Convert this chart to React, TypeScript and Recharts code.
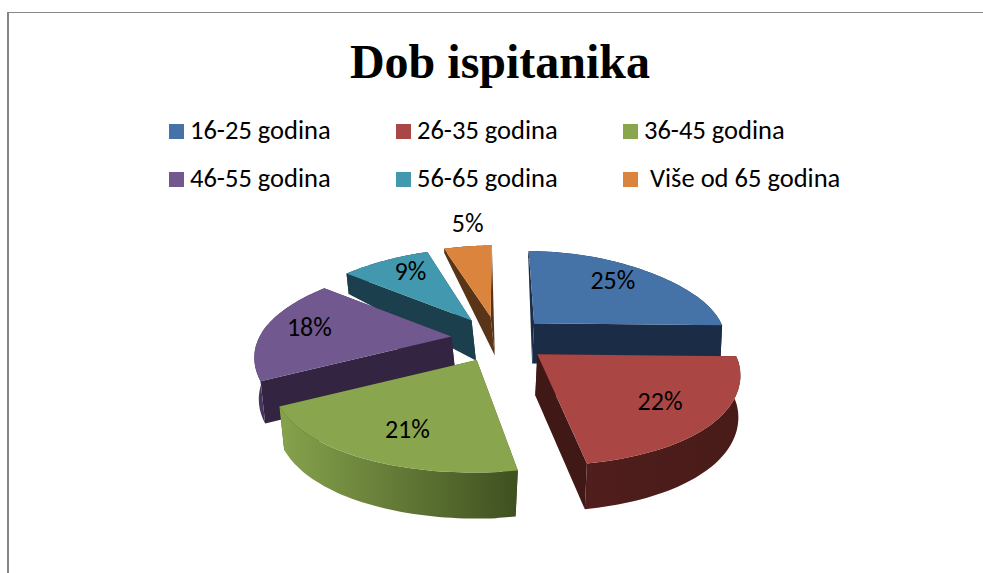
import React from 'react';
import { PieChart, Pie, Legend } from 'recharts';

const title = 'Dob ispitanika';
const categories = ['16-25 godina', '26-35 godina', '36-45 godina', '46-55 godina', '56-65 godina', ' Više od 65 godina'];
const values = [25, 22, 21, 18, 9, 5];
const topColors = ['#4572A7', '#AA4643', '#89A54E', '#71588F', '#4198AF', '#DB843D'];
const edgeColors = ['#1A2C46', '#401917', '#3F5020', '#332541', '#1B3F4C', '#5A3416'];
const arcColors = [
  ['#1A2C46', '#1A2C46'],
  ['#501E1C', '#481B19'],
  ['#86A34C', '#3F5020'],
  ['#4A3660', '#332541'],
  ['#1B3F4C', '#1B3F4C'],
  ['#5A3416', '#5A3416'],
];
// pie is drawn counter-clockwise from the blue slice's end so nearer slices paint last
const drawOrder = [0, 5, 4, 3, 2, 1];
const data = drawOrder.map((i) => ({ name: categories[i], value: values[i], idx: i }));

const W = 983;
const H = 573;
const CX = 498;
const CY = 339.5;
const RAD = Math.PI / 180;
const labelShiftX = [-2, -3, 9, -8, 1, 6];
const labelShiftY = [-6, -3, -3, -3, -6, -4];

const offsetOf = (cx: number, cy: number, mid: number) => {
  const t = (90 - mid) * RAD;
  const s = Math.sin(t);
  return { x: cx + (s > 0 ? 51 : 47) * s, y: cy - 23 * Math.cos(t) };
};
const project = (apex: { x: number; y: number }, angle: number, r: number, f: number) => {
  const t = (90 - angle) * RAD;
  const s = Math.sin(t);
  const v = -Math.cos(t);
  const persp = 1 + (apex.y - 343) * 0.0018;
  return {
    x: apex.x + f * (r * (1 + 0.18 * v) * s * persp + 0.15 * (apex.x - CX) * v),
    y: apex.y + f * (v * (92 + 19 * Math.tanh(1.5 * v)) * persp + 2 * s * s * s * s),
  };
};
const depth = (y: number) =>
  y < 320 ? 40 * Math.pow(Math.max(y - 245, 0) / 75, 0.7) : 40 + (y - 320) * 0.04;
const drop = (p: { x: number; y: number }) => ({ x: p.x + (p.x > CX ? -0.4 : 0.9) * depth(p.y) * 0.12, y: p.y + depth(p.y) });
const toPts = (a: { x: number; y: number }[]) => a.map((p) => `${p.x.toFixed(1)},${p.y.toFixed(1)}`).join(' ');

const Slice3D = (props: any) => {
  const { cx, cy, outerRadius, startAngle, endAngle, midAngle, payload } = props;
  const i = payload.idx;
  const apex = offsetOf(cx, cy, midAngle);
  const n = 48;
  const arc: { x: number; y: number }[] = [];
  for (let k = 0; k <= n; k++) {
    arc.push(project(apex, startAngle + ((endAngle - startAngle) * k) / n, outerRadius, 1));
  }
  const first = arc[0];
  const last = arc[n];
  const gid = `arc-wall-${i}`;
  return (
    <g>
      <defs>
        <linearGradient id={gid} x1="0" y1="0" x2="1" y2="0">
          <stop offset="0" stopColor={arcColors[i][0]} />
          <stop offset="1" stopColor={arcColors[i][1]} />
        </linearGradient>
      </defs>
      <polygon points={toPts([apex, first, drop(first), drop(apex)])} fill={edgeColors[i]} />
      <polygon points={toPts([apex, last, drop(last), drop(apex)])} fill={edgeColors[i]} />
      <polygon points={toPts([...arc, ...arc.map(drop).reverse()])} fill={`url(#${gid})`} />
      <polygon points={toPts([apex, ...arc])} fill={topColors[i]} />
    </g>
  );
};

const renderLabel = (props: any) => {
  const { cx, cy, midAngle, outerRadius, payload, value } = props;
  const apex = offsetOf(cx, cy, midAngle);
  const f = value < 6 ? 1.27 : 0.72;
  const p = project(apex, midAngle, outerRadius, f);
  const i = payload.idx;
  return (
    <text key={i} x={p.x + labelShiftX[i]} y={p.y + labelShiftY[i]} textAnchor="middle" dominantBaseline="central" fontFamily="Carlito, Lato, sans-serif" fontSize={26} fill="#000">
      {`${value}%`}
    </text>
  );
};

const renderLegend = () => (
  <div style={{ position: 'absolute', left: 169, top: 106, width: 690, display: 'flex', flexWrap: 'wrap' }}>
    {categories.map((c, i) => (
      <div key={c} style={{ width: 227, height: 48, display: 'flex', alignItems: 'center', whiteSpace: 'pre', fontFamily: 'Carlito, Lato, sans-serif', fontSize: 26.5, color: '#000' }}>
        <span style={{ width: 15, height: 15, background: topColors[i], marginRight: 6, flex: 'none', position: 'relative', top: 1.5 }} />
        {c}
      </div>
    ))}
  </div>
);

export default function App() {
  return (
    <div style={{ position: 'absolute', left: 0, top: 0, width: W, height: H, overflow: 'hidden', background: '#fff' }}>
      <div style={{ position: 'absolute', left: 7, top: 12, right: 0, bottom: 0, borderTop: '1px solid #868686', borderLeft: '2px solid #868686' }} />
      <PieChart width={W} height={H} margin={{ top: 0, right: 0, bottom: 0, left: 0 }} style={{ position: 'absolute', left: 0, top: 0 }}>
        <text x={500} y={78} textAnchor="middle" fontFamily="'Liberation Serif', serif" fontWeight="bold" fontSize={48} fill="#000">
          {title}
        </text>
        <Legend content={renderLegend} wrapperStyle={{ left: 0, top: 0, width: W, height: 0 }} />
        <Pie
          data={data}
          dataKey="value"
          nameKey="name"
          cx={CX}
          cy={CY}
          outerRadius={195}
          startAngle={0}
          endAngle={360}
          stroke="none"
          shape={Slice3D}
          label={renderLabel}
          labelLine={false}
          isAnimationActive={false}
        />
      </PieChart>
    </div>
  );
}
